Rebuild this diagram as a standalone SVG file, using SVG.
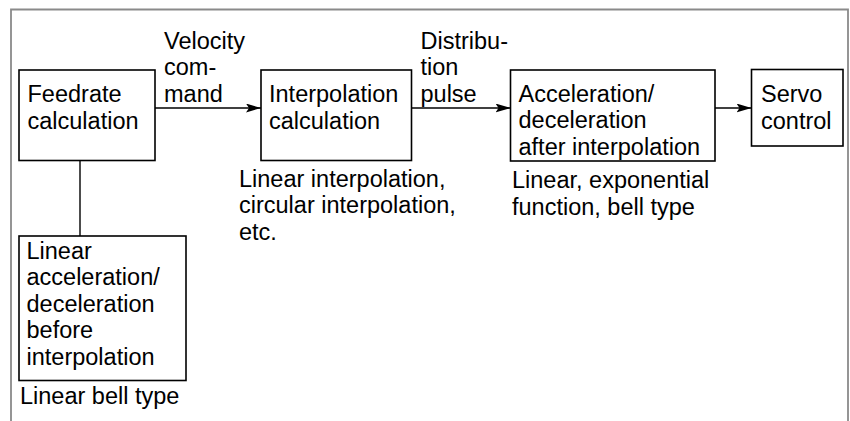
<svg xmlns="http://www.w3.org/2000/svg" width="850" height="421" viewBox="0 0 850 421">
<style>
.box{fill:#fff;stroke:#000;stroke-width:1.6}
.t{font-family:"Liberation Sans",Arial,sans-serif;font-size:23.5px;fill:#000}
.c{stroke:#000;stroke-width:1.4;fill:none}
.frame{stroke:#8a8a8a;stroke-width:1.8;fill:none}
</style>
<defs>
<marker id="ah" viewBox="0 0 15 9" refX="15" refY="4.5" markerWidth="15" markerHeight="9" markerUnits="userSpaceOnUse" orient="auto">
<path d="M0,0 L15,4.5 L0,9 L3,4.5 Z" fill="#000"/>
</marker>
</defs>
<rect width="850" height="421" fill="#fff"/>
<path class="frame" d="M11,421 V9.5 H848 V421"/>
<g id="connectors">
<line class="c" x1="155" y1="108" x2="261" y2="108" marker-end="url(#ah)"/>
<line class="c" x1="411" y1="108" x2="510.5" y2="108" marker-end="url(#ah)"/>
<line class="c" x1="715" y1="108" x2="751.5" y2="108" marker-end="url(#ah)"/>
<line class="c" x1="80" y1="160.5" x2="80" y2="236"/>
<text class="t" x="164" y="48.7">Velocity</text>
<text class="t" x="164" y="75.2">com-</text>
<text class="t" x="164" y="101.7">mand</text>
<text class="t" x="420.5" y="48.7">Distribu-</text>
<text class="t" x="420.5" y="75.2">tion</text>
<text class="t" x="420.5" y="101.7">pulse</text>
</g>
<g id="feedrate">
<rect class="box" x="19" y="70" width="136" height="90.5"/>
<text class="t" x="27.5" y="102">Feedrate</text>
<text class="t" x="27.5" y="128.5">calculation</text>
</g>
<g id="interpolation">
<rect class="box" x="261" y="70" width="150.5" height="90.5"/>
<text class="t" x="269" y="102">Interpolation</text>
<text class="t" x="269" y="128.5">calculation</text>
<text class="t" x="239" y="186.5">Linear interpolation,</text>
<text class="t" x="239" y="213">circular interpolation,</text>
<text class="t" x="239" y="239.5">etc.</text>
</g>
<g id="accel-after">
<rect class="box" x="510.5" y="70" width="204.5" height="91"/>
<text class="t" x="518.5" y="101.7">Acceleration/</text>
<text class="t" x="518.5" y="128.2">deceleration</text>
<text class="t" x="518.5" y="154.7">after interpolation</text>
<text class="t" x="512" y="188">Linear, exponential</text>
<text class="t" x="512" y="214.5">function, bell type</text>
</g>
<g id="servo">
<rect class="box" x="751.5" y="69.5" width="91.5" height="76.5"/>
<text class="t" x="761" y="101.5">Servo</text>
<text class="t" x="761" y="128.5">control</text>
</g>
<g id="accel-before">
<rect class="box" x="19" y="236" width="167" height="144.5"/>
<text class="t" x="26.5" y="258.5">Linear</text>
<text class="t" x="26.5" y="285">acceleration/</text>
<text class="t" x="26.5" y="311.7">deceleration</text>
<text class="t" x="26.5" y="338.3">before</text>
<text class="t" x="26.5" y="365">interpolation</text>
<text class="t" x="20" y="403.5">Linear bell type</text>
</g>
</svg>
